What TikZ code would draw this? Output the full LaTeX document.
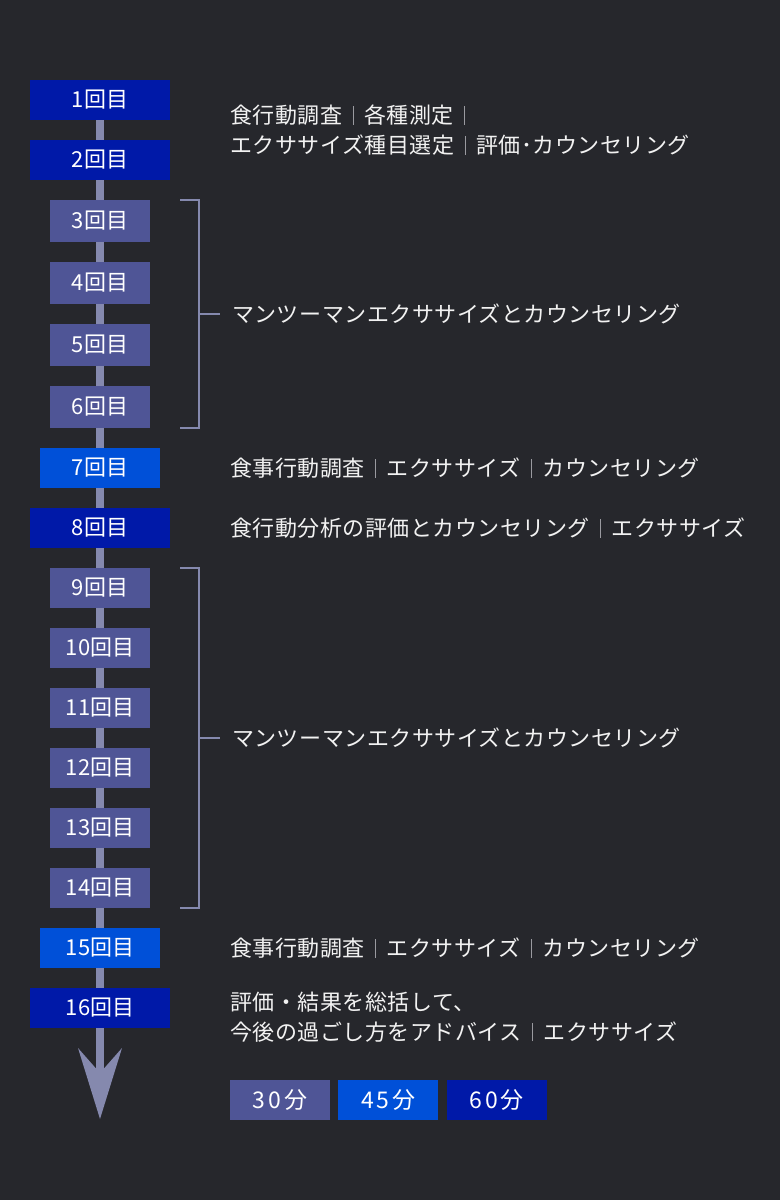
\documentclass[tikz,border=0pt]{standalone}
\usepackage{fontspec}
\setmainfont{Noto Sans CJK JP}
\newfontfamily\txtfont[LetterSpace=2.3]{Noto Sans CJK JP}
\newfontfamily\legendfont[LetterSpace=12.0]{Noto Sans CJK JP}
\usetikzlibrary{calc,arrows.meta,positioning}

\definecolor{bgcol}{HTML}{26272C}
\definecolor{sixtyblue}{HTML}{0019A8}
\definecolor{fortyfiveblue}{HTML}{0050D8}
\definecolor{thirtyblue}{HTML}{4F5596}
\definecolor{spinecol}{HTML}{8589AE}
\definecolor{sepcol}{HTML}{9A9AA0}
\definecolor{textcol}{HTML}{F2F2F2}

\newcommand\sepline{\makebox[1em]{\color{sepcol}\rule[-0.05em]{0.9pt}{0.85em}}}

\begin{document}
\begin{tikzpicture}[x=1pt,y=-1pt,
    every node/.style={inner sep=0pt},
    session/.style={text=white, minimum height=40pt, font=\fontsize{22}{22}\selectfont},
    sixty/.style={session, fill=sixtyblue, minimum width=140pt},
    fortyfive/.style={session, fill=fortyfiveblue, minimum width=120pt},
    thirty/.style={session, fill=thirtyblue, minimum width=100pt},
    legend/.style={minimum width=100pt, font=\legendfont\fontsize{23}{23}\selectfont},
    spine/.style={draw=spinecol, line width=7.5pt},
    brk/.style={draw=spinecol, line width=2pt},
    txt/.style={text=textcol, anchor=west, align=left, font=\txtfont\fontsize{22}{30}\selectfont}
  ]
        \fill[bgcol] (0,0) rectangle (780,1200);
        \useasboundingbox (0,0) rectangle (780,1200);

        \foreach \i/\y/\s/\h in {1/100/sixty/40, 2/160/sixty/40, 3/221/thirty/42, 4/283/thirty/42,
            5/345/thirty/42, 6/407/thirty/42, 7/468/fortyfive/40, 8/528/sixty/40,
            9/588/thirty/40, 10/648/thirty/40, 11/708/thirty/40, 12/768/thirty/40,
            13/828/thirty/40, 14/888/thirty/40, 15/948/fortyfive/40, 16/1008/sixty/40} {
          \node[\s, minimum height=\h pt] (b\i) at (100,\y) {\i{}回目};
        }

        \foreach \i in {1,...,15} {
          \pgfmathparse{int(\i+1)}
          \let\j\pgfmathresult
          \draw[spine] (b\i) -- (b\j);
        }
        \coordinate (tip) at (100,1119);
        \draw[spine,-{Stealth[length=71pt,width=44pt,inset=25pt,line width=0pt]}] (b16) -- (tip);

        \draw[brk] ([xshift=30pt]b3.north east) -- ++(19,0) |- ([xshift=30pt]b6.south east);
        \draw[brk] ([xshift=30pt]b9.north east) -- ++(19,0) |- ([xshift=30pt]b14.south east);
        \coordinate (k1) at ($(b3.north)!.5!(b6.south)+(99,0)$);
        \coordinate (k2) at ($(b9.north)!.5!(b14.south)+(99,0)$);
        \draw[brk] (k1) -- ++(21,0) node[txt, right=11pt] (t3) {マンツーマンエクササイズとカウンセリング};
        \draw[brk] (k2) -- ++(21,0) node[txt, right=11pt] (t9) {マンツーマンエクササイズとカウンセリング};

        \node[txt] (t1) at (230,130.5) {食行動調査\sepline 各種測定\sepline\\エクササイズ種目選定\sepline 評価･カウンセリング};
        \node[txt] (t7) at (230,468) {食事行動調査\sepline エクササイズ\sepline カウンセリング};
        \node[txt] (t8) at (230,528) {食行動分析の評価とカウンセリング\sepline エクササイズ};
        \node[txt] (t15) at (230,948) {食事行動調査\sepline エクササイズ\sepline カウンセリング};
        \node[txt] (t16) at (230,1017) {評価・結果を総括して、\\今後の過ごし方をアドバイス\sepline エクササイズ};

        % legend
        \node[thirty, legend] (l30) at (280,1100) {30分};
        \node[fortyfive, legend, right=8pt of l30] (l45) {45分};
        \node[sixty, legend, right=8pt of l45] (l60) {60分};
      \end{tikzpicture}
\end{document}
